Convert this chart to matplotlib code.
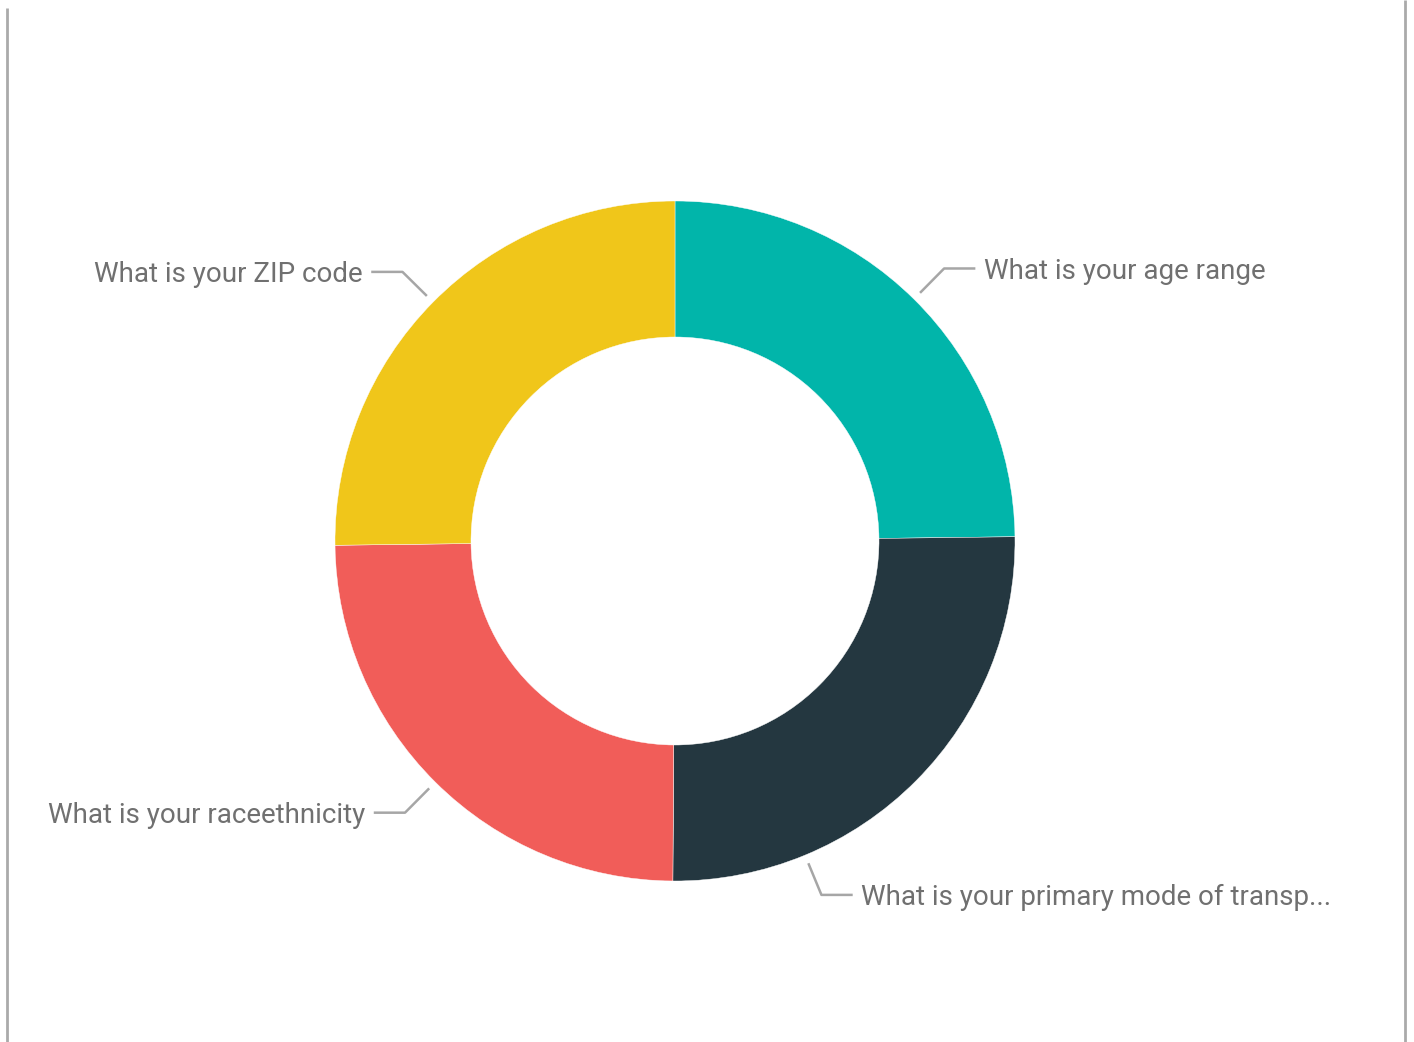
import numpy as np
import matplotlib
matplotlib.use('Agg')
import matplotlib.pyplot as plt

# survey questions and their share of the donut
questions = ['What is your age range',
             'What is your primary mode of transp...',
             'What is your raceethnicity',
             'What is your ZIP code']
counts = [248, 253, 247, 252]
colors = ['#01B5AA', '#243740', '#F15D59', '#F0C61A']

W, H = 1414, 1042
fig = plt.figure(figsize=(W / 100, H / 100), dpi=100)
ax = fig.add_axes([0, 0, 1, 1])

cx, cy, R = 675, H - 541, 340
wedges, _ = ax.pie(counts, colors=colors, startangle=90, counterclock=False,
                   radius=R, center=(cx, cy), frame=True,
                   wedgeprops=dict(width=136, edgecolor='white', linewidth=0.3))
ax.set_xlim(0, W)
ax.set_ylim(0, H)
ax.axis('off')

# side border lines
ax.plot([7, 7], [0, H - 8], color='#aaaaaa', lw=2, solid_capstyle='butt')
ax.plot([1405, 1405], [0, H], color='#aaaaaa', lw=2, solid_capstyle='butt')

label_shift = {1: -22.7}  # transport label sits lower than its mid angle
for i, (w, q) in enumerate(zip(wedges, questions)):
    ang = (w.theta1 + w.theta2) / 2 + label_shift.get(i, 0)
    a = np.deg2rad(ang)
    x0, y0 = cx + 350 * np.cos(a), cy + 350 * np.sin(a)
    x1, y1 = cx + 383 * np.cos(a), cy + 383 * np.sin(a)
    side = 1 if np.cos(a) > 0 else -1
    x2 = x1 + side * 30
    ax.plot([x0, x1, x2], [y0, y1, y1], color='#a6a6a6', lw=1.8)
    ax.text(x2 + side * 10, y1 - 3, q, ha='left' if side > 0 else 'right', va='center',
            fontsize=20, color='#707070',
            family=['Roboto', 'DejaVu Sans'])

fig.savefig('out.png', dpi=100)
